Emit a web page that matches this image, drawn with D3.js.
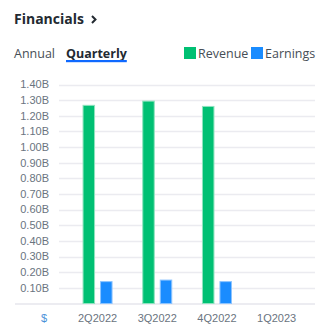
<!DOCTYPE html>
<html><head><meta charset="utf-8">
<script src="https://cdn.jsdelivr.net/npm/d3@7/dist/d3.min.js"></script>
<style>
html,body{margin:0;padding:0;background:#fff;}
svg{display:block;}
</style></head>
<body>
<script>
const categories = ["2Q2022", "3Q2022", "4Q2022", "1Q2023"];
const series = ["Revenue", "Earnings"];
const revenue = [1.27, 1.297, 1.263, null];
const earnings = [0.143, 0.153, 0.143, null];
const yTicks = [0.1, 0.2, 0.3, 0.4, 0.5, 0.6, 0.7, 0.8, 0.9, 1.0, 1.1, 1.2, 1.3, 1.4];
const colors = {Revenue: "#00c073", Earnings: "#1a8cff"};
const strokes = {Revenue: "#8fe3bf", Earnings: "#8cc4ff"};

const W = 326, H = 333;
const svg = d3.select("body").append("svg").attr("width", W).attr("height", H);

// Header
const t = svg.append("text").attr("x", 14).attr("y", 24)
  .attr("font-family", "'Open Sans', sans-serif").attr("font-weight", 700)
  .attr("font-size", 14).attr("fill", "#232a31").text("Financials");
const tw = t.node().getComputedTextLength();
const cx = 14 + tw + 8;
svg.append("path").attr("d", `M${cx},16 L${cx + 3.5},19.5 L${cx},23`)
  .attr("fill", "none").attr("stroke", "#232a31").attr("stroke-width", 2);

svg.append("text").attr("x", 14).attr("y", 58)
  .attr("font-family", "'Open Sans', sans-serif").attr("font-size", 12.5)
  .attr("fill", "#464e56").text("Annual");
const q = svg.append("text").attr("x", 66).attr("y", 58)
  .attr("font-family", "'Open Sans', sans-serif").attr("font-weight", 700)
  .attr("font-size", 12.5).attr("fill", "#232a31").text("Quarterly");
const qw = q.node().getComputedTextLength();
svg.append("rect").attr("x", 66).attr("y", 60).attr("width", qw).attr("height", 2.2).attr("fill", "#0f69ff");

// Legend
const leg = [{k: "Revenue", x: 184}, {k: "Earnings", x: 251}];
leg.forEach(l => {
  svg.append("rect").attr("x", l.x).attr("y", 47).attr("width", 12).attr("height", 12).attr("fill", colors[l.k]);
  svg.append("text").attr("x", l.x + 14).attr("y", 58)
    .attr("font-family", "'Open Sans', sans-serif").attr("font-size", 12.5)
    .attr("fill", "#464e56").text(l.k);
});

// Scales
const y = d3.scaleLinear().domain([0, 1.4]).range([303.5, 84.5]);
const x = d3.scaleBand().domain(categories).range([67.7, 306.5]).paddingInner(0).paddingOuter(0);
const xs = d3.scaleBand().domain(series).range([-15, 15]).paddingInner(0.2857).paddingOuter(0);

// Grid
svg.append("g").selectAll("line").data(yTicks).join("line")
  .attr("x1", 59).attr("x2", 315)
  .attr("y1", d => Math.round(y(d)) + 0.5).attr("y2", d => Math.round(y(d)) + 0.5)
  .attr("stroke", "#ebebf0").attr("stroke-width", 1.3);
svg.append("line").attr("x1", 15).attr("x2", 315).attr("y1", 304).attr("y2", 304)
  .attr("stroke", "#e6e6ec").attr("stroke-width", 1.5);

// Y labels
svg.append("g").selectAll("text").data(yTicks).join("text")
  .attr("x", 49).attr("y", d => y(d)).attr("dy", "0.35em")
  .attr("text-anchor", "end")
  .attr("font-family", "'Liberation Sans', Arial, sans-serif").attr("font-size", 11)
  .attr("fill", "#6a7480").text(d => d.toFixed(2) + "B");

// X labels
svg.append("g").selectAll("text").data(categories).join("text")
  .attr("x", d => x(d) + x.bandwidth() / 2).attr("y", 318).attr("dy", "0.35em")
  .attr("text-anchor", "middle")
  .attr("font-family", "'Liberation Sans', Arial, sans-serif").attr("font-size", 11)
  .attr("fill", "#6a7480").text(d => d);
svg.append("text").attr("x", 44).attr("y", 318).attr("dy", "0.35em").attr("text-anchor", "middle")
  .attr("font-family", "'Liberation Sans', Arial, sans-serif").attr("font-size", 11)
  .attr("fill", "#4a90d9").text("$");

// Bars
const data = [];
categories.forEach((c, i) => {
  if (revenue[i] != null) data.push({c, s: "Revenue", v: revenue[i]});
  if (earnings[i] != null) data.push({c, s: "Earnings", v: earnings[i]});
});
svg.append("g").selectAll("rect").data(data).join("rect")
  .attr("x", d => x(d.c) + x.bandwidth() / 2 + xs(d.s) + 0.5)
  .attr("width", xs.bandwidth() - 1)
  .attr("y", d => y(d.v) + 0.5)
  .attr("height", d => y(0) - y(d.v) - 0.5)
  .attr("fill", d => colors[d.s])
  .attr("stroke", d => strokes[d.s]).attr("stroke-width", 1);
</script>
</body></html>
